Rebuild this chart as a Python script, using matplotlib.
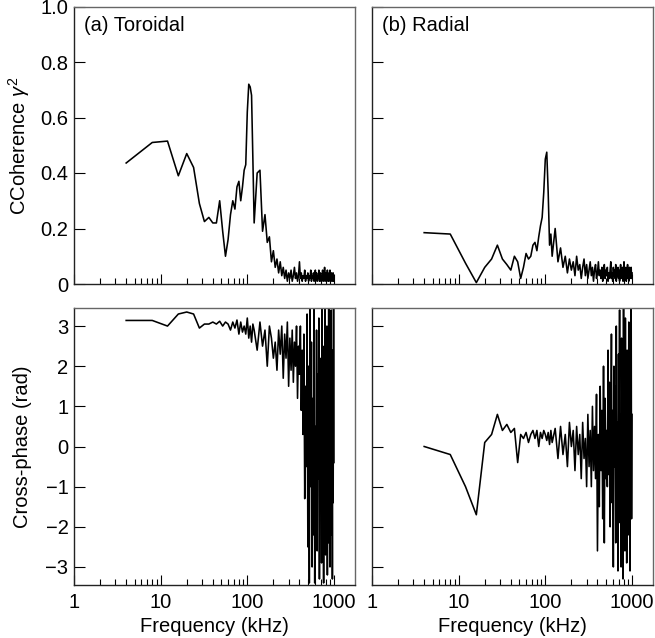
import numpy as np
import matplotlib
matplotlib.use("Agg")
import matplotlib.pyplot as plt
from matplotlib.ticker import FixedLocator, FixedFormatter, LogLocator, NullFormatter

plt.rcParams['font.family'] = ['Liberation Sans', 'DejaVu Sans']
plt.rcParams['mathtext.fontset'] = 'custom'
plt.rcParams['mathtext.rm'] = 'Liberation Sans'
plt.rcParams['mathtext.it'] = 'Liberation Sans:italic'
plt.rcParams['axes.unicode_minus'] = True

# Frequency bins (kHz)
freq = np.concatenate([np.arange(4, 121, 4), np.arange(130, 1001, 10)])

coh_tor = [
    0.436, 0.51, 0.515, 0.39, 0.47, 0.42, 0.29, 0.225, 0.24, 0.22,
    0.22, 0.30, 0.19, 0.10, 0.16, 0.25, 0.30, 0.27, 0.35, 0.37,
    0.30, 0.35, 0.41, 0.43, 0.62, 0.72, 0.71, 0.68, 0.45, 0.22,
    0.40, 0.41, 0.19, 0.25, 0.15, 0.17, 0.08, 0.12, 0.06, 0.09,
    0.04, 0.08, 0.03, 0.06, 0.02, 0.05, 0.01, 0.04, 0.02, 0.05,
    0.01, 0.03, 0.06, 0.02, 0.04, 0.01, 0.03, 0.08, 0.02, 0.04,
    0.01, 0.03, 0.02, 0.05, 0.01, 0.03, 0.02, 0.04, 0.01, 0.03,
    0.02, 0.05, 0.01, 0.03, 0.02, 0.04, 0.01, 0.03, 0.05, 0.02,
    0.04, 0.01, 0.03, 0.02, 0.05, 0.01, 0.03, 0.04, 0.01, 0.03,
    0.02, 0.05, 0.01, 0.03, 0.02, 0.06, 0.01, 0.04, 0.02, 0.03,
    0.01, 0.05, 0.02, 0.03, 0.01, 0.04, 0.02, 0.05, 0.01, 0.03,
    0.02, 0.04, 0.01, 0.03, 0.02, 0.04, 0.01, 0.03,
]

coh_rad = [
    0.185, 0.18, 0.075, 0.005, 0.06, 0.09, 0.14, 0.09, 0.07, 0.05,
    0.10, 0.08, 0.02, 0.06, 0.11, 0.09, 0.10, 0.14, 0.15, 0.12,
    0.17, 0.21, 0.24, 0.33, 0.45, 0.475, 0.33, 0.14, 0.18, 0.10,
    0.20, 0.08, 0.13, 0.06, 0.10, 0.04, 0.09, 0.05, 0.08, 0.03,
    0.10, 0.05, 0.07, 0.02, 0.06, 0.09, 0.03, 0.07, 0.02, 0.05,
    0.08, 0.03, 0.06, 0.01, 0.05, 0.07, 0.02, 0.04, 0.08, 0.03,
    0.05, 0.02, 0.06, 0.01, 0.04, 0.07, 0.02, 0.05, 0.03, 0.06,
    0.01, 0.04, 0.02, 0.05, 0.08, 0.02, 0.04, 0.01, 0.06, 0.03,
    0.05, 0.02, 0.07, 0.01, 0.04, 0.03, 0.06, 0.02, 0.05, 0.01,
    0.04, 0.07, 0.02, 0.05, 0.03, 0.06, 0.01, 0.04, 0.08, 0.02,
    0.05, 0.03, 0.06, 0.01, 0.04, 0.02, 0.07, 0.03, 0.05, 0.01,
    0.04, 0.06, 0.02, 0.05, 0.03, 0.06, 0.02, 0.04,
]

phase_tor = [
    3.14, 3.14, 3.0, 3.3, 3.35, 3.3, 2.95, 3.05, 3.05, 3.1,
    3.05, 3.12, 3.0, 3.1, 3.05, 2.9, 3.1, 2.95, 3.15, 2.8,
    3.1, 2.85, 3.0, 2.8, 3.2, 2.7, 3.0, 2.6, 3.05, 2.9,
    2.4, 3.1, 2.5, 2.9, 2.0, 3.0, 2.7, 2.2, 2.6, 1.9,
    2.9, 2.3, 3.0, 1.7, 2.8, 2.2, 3.1, 1.5, 2.7, 1.9,
    2.9, 1.6, 2.6, 2.0, 3.0, 1.2, 2.5, 1.8, 3.0, 0.9,
    2.4, 0.3, 2.8, -1.3, 1.5, -0.5, 3.3, -2.5, 2.0, -3.4,
    3.5, -1.0, 2.6, -3.0, 1.2, -2.2, 3.5, -3.4, 0.5, -1.8,
    2.9, -2.6, 1.8, -0.8, 3.2, -3.3, 2.2, -1.5, 0.8, -2.9,
    3.5, -2.0, 1.0, -3.4, 2.5, -0.5, 3.5, -2.7, 1.6, -1.2,
    3.0, -3.2, 0.2, -2.4, 3.5, -1.6, 2.1, -3.0, 1.3, -0.9,
    3.4, -2.2, 0.6, -3.3, 2.4, -1.4, 3.5, -0.4,
]

phase_rad = [
    0.0, -0.2, -1.0, -1.7, 0.1, 0.3, 0.8, 0.4, 0.55, 0.35,
    0.45, -0.4, 0.3, 0.2, 0.35, 0.1, 0.3, 0.4, 0.2, 0.4,
    0.0, 0.35, 0.2, 0.4, 0.3, 0.15, 0.35, 0.05, 0.4, 0.1,
    0.45, -0.3, 0.5, -0.2, 0.3, -0.5, 0.6, 0.0, 0.4, -0.6,
    0.5, -0.2, 0.3, -0.8, 0.6, -0.3, 0.2, -1.0, 0.8, -0.5,
    0.4, -1.0, 1.0, -0.6, 0.5, -0.8, 1.3, -2.6, 0.3, -1.5,
    1.5, -0.6, 0.9, -1.8, 2.0, -2.4, 1.2, -0.8, 0.4, -1.0,
    2.4, -0.7, 1.6, -2.0, 0.2, 2.8, -1.4, 0.9, -3.0, 2.0,
    -0.5, 1.5, -2.4, 3.0, -1.0, 0.6, -3.1, 2.3, -0.2, 3.4,
    -1.9, 0.8, -3.0, 2.7, -0.8, 1.8, -3.3, 3.5, -1.2, 0.4,
    -2.6, 3.2, -0.6, 1.7, -2.9, 2.4, -1.5, 0.3, -2.2, 3.1,
    -0.9, 1.4, -3.1, 2.6, -0.4, 3.5, -1.8, 0.8,
]

panel_labels = ['(a) Toroidal', '(b) Radial']
xticks = [1, 10, 100, 1000]
xticklabels = ['1', '10', '100', '1000']
coh_ticks = [0, 0.2, 0.4, 0.6, 0.8, 1.0]
coh_ticklabels = ['0', '0.2', '0.4', '0.6', '0.8', '1.0']
ph_ticks = [-3, -2, -1, 0, 1, 2, 3]

FS = 14.5
fig = plt.figure(figsize=(6.55, 6.38), dpi=100)
W = 0.429
xl = [74 / 655, 372 / 655]
top_b, top_h = 1 - 284 / 638, 277.5 / 638
bot_b, bot_h = 1 - 585 / 638, 277 / 638

axes = {}
for col in range(2):
    axes[(0, col)] = fig.add_axes([xl[col], top_b, W, top_h])
    axes[(1, col)] = fig.add_axes([xl[col], bot_b, W, bot_h])

data = {(0, 0): coh_tor, (0, 1): coh_rad, (1, 0): phase_tor, (1, 1): phase_rad}

for (row, col), ax in axes.items():
    ax.plot(freq, data[(row, col)], color='black', lw=1.15, clip_on=True)
    ax.set_xscale('log')
    ax.set_xlim(1, 1750)
    for s in ['left', 'bottom']:
        ax.spines[s].set_color('#222222')
        ax.spines[s].set_linewidth(1.0)
    for s in ['top', 'right']:
        ax.spines[s].set_color('#666666')
        ax.spines[s].set_linewidth(1.0)
    ax.xaxis.set_major_locator(FixedLocator(xticks))
    ax.xaxis.set_minor_locator(LogLocator(base=10, subs=np.arange(2, 10)))
    ax.xaxis.set_minor_formatter(NullFormatter())
    ax.tick_params(axis='x', which='major', direction='in', length=7, width=0.8,
                   top=False, bottom=True, labelsize=FS, pad=6)
    ax.tick_params(axis='x', which='minor', direction='in', length=4, width=0.8,
                   top=False, bottom=True)
    ax.tick_params(axis='y', which='major', direction='in', length=8, width=0.8,
                   left=True, right=False, labelsize=FS, pad=4)
    if row == 0:
        ax.set_ylim(0, 1.0)
        ax.yaxis.set_major_locator(FixedLocator(coh_ticks))
        ax.yaxis.set_major_formatter(FixedFormatter(coh_ticklabels))
        ax.tick_params(axis='x', labelbottom=False)
        ax.text(0.035, 0.965, panel_labels[col], transform=ax.transAxes,
                fontsize=FS, va='top', ha='left')
    else:
        ax.set_ylim(-3.45, 3.45)
        ax.yaxis.set_major_locator(FixedLocator(ph_ticks))
        ax.xaxis.set_major_formatter(FixedFormatter(xticklabels))
        ax.set_xlabel('Frequency (kHz)', fontsize=FS, labelpad=3)
    if col == 1:
        ax.tick_params(axis='y', labelleft=False)

axes[(0, 0)].set_ylabel(r'CCoherence $\gamma^2$', fontsize=FS)
axes[(1, 0)].set_ylabel('Cross-phase (rad)', fontsize=FS)
for r in range(2):
    axes[(r, 0)].yaxis.set_label_coords(-0.15, 0.5)

fig.savefig('out.png', dpi=100)
